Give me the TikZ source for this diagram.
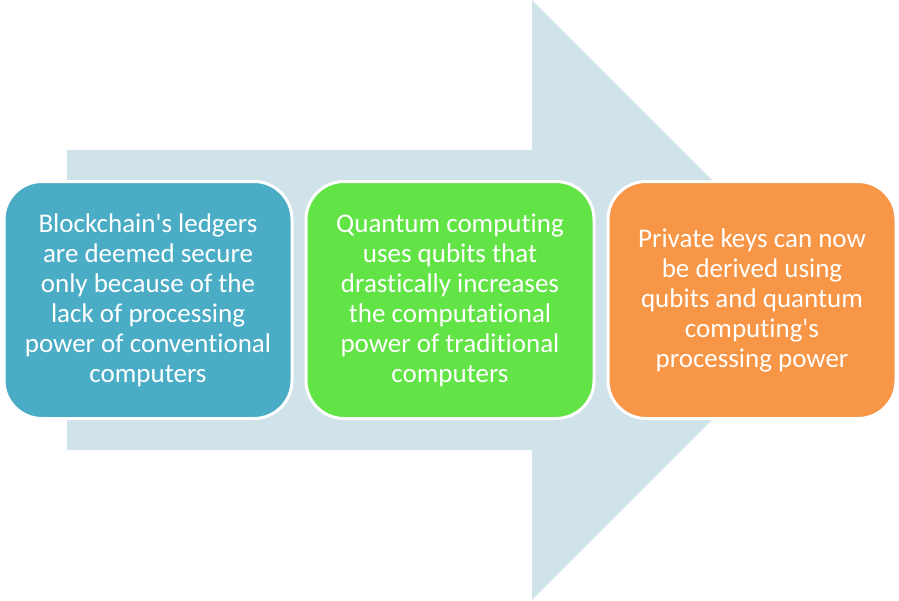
\documentclass[tikz,border=0pt]{standalone}
\usepackage{fontspec}
\setmainfont{Carlito}[Ligatures=NoCommon]
\usetikzlibrary{positioning}
\definecolor{arrowblue}{RGB}{208,226,234}
\definecolor{stageblue}{RGB}{75,172,198}
\definecolor{stagegreen}{RGB}{98,227,70}
\definecolor{stageorange}{RGB}{247,150,70}

\begin{document}
\begin{tikzpicture}[x=1pt,y=-1pt,node distance=14pt]
\tikzstyle{stagebox}=[draw=white,line width=3pt,rounded corners=38pt,outer sep=0pt,inner sep=0pt,
	minimum width=288pt,minimum height=237pt,text=white,align=center,
	font=\fontsize{27pt}{30pt}\selectfont]
	\useasboundingbox (0,0) rectangle (899,600);

	% big arrow behind the stages
	\fill[arrowblue] (67,150) -- (532,150) -- (532,0) -- (832,300) -- (532,600) -- (532,450) -- (67,450) -- cycle;

	\node[stagebox,fill=stageblue] (ledger) at (148,300)
		{Blockchain\textquotesingle s ledgers\\are deemed secure\\only because of the\\lack of processing\\power of conventional\\computers};
	\node[stagebox,fill=stagegreen,right=of ledger] (qubit)
		{Quantum computing\\uses qubits that\\drastically increases\\the computational\\power of traditional\\computers};
	\node[stagebox,fill=stageorange,right=of qubit] (keys)
		{Private keys can now\\be derived using\\qubits and quantum\\computing\textquotesingle s\\processing power};
\end{tikzpicture}
\end{document}
